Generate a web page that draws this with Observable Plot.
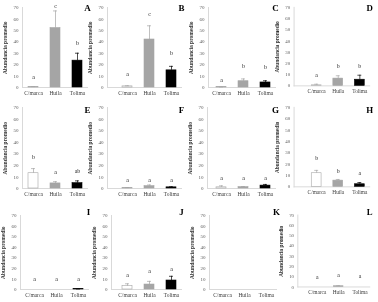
<!DOCTYPE html>
<html><head><meta charset="utf-8">
<script src="https://cdn.jsdelivr.net/npm/d3@7"></script>
<script src="https://cdn.jsdelivr.net/npm/@observablehq/plot@0.6"></script>
<style>
body{margin:0;background:#fff;}
#chart{position:relative;width:378px;height:302px;overflow:hidden;background:#fff;}
#chart > div{position:absolute;will-change:transform;}
#chart svg{overflow:visible;background:transparent;}
</style></head><body><div id="chart"></div>
<script>
// ---- data ----
const categories = ["C/marca", "Huila", "Tolima"];
const panelLetters = ["A","B","C","D","E","F","G","H","I","J","K","L"];
const yTicks = [0, 10, 20, 30, 40, 50, 60, 70];
const yLabel = "Abundancia promedio";
const means = [
  [0.5, 52, 23.5], [1, 42, 15], [0.3, 5.5, 4.4], [0.5, 6.5, 5.5],
  [13.2, 4.4, 4.6], [0.5, 2, 1], [1, 1.2, 2.5], [12, 5.5, 2.3],
  [0, 0, 0.3], [3.2, 4.7, 8.5], [0, 0, 0], [0, 0.7, 0]
];
const errors = [
  [0.3, 15, 6.5], [0.5, 12, 3.5], [0.2, 2, 1.5], [1, 2.5, 4],
  [4, 1.5, 2], [0.3, 1, 0.5], [1.3, 0.5, 1], [2.5, 1, 1.5],
  [0, 0, 0.2], [2.2, 3, 4], [0, 0, 0], [0, 0.5, 0]
];
const groupLetters = [
  ["a","c","b"], ["a","c","b"], ["a","b","b"], ["a","b","b"],
  ["b","a","ab"], ["a","a","a"], ["a","a","a"], ["b","b","a"],
  ["a","a","a"], ["a","a","a"], ["","",""], ["a","a","a"]
];
const letterHeights = [
  [9, 71.5, 38.5], [12, 64.5, 30], [6.5, 18.5, 17.5], [9.3, 17.5, 17.5],
  [27, 14.5, 15], [7.3, 7.3, 7.3], [8.7, 8.7, 8.7], [25, 14, 12.5],
  [10, 10, 10], [13.2, 17, 19.6], [0, 0, 0], [10, 11.5, 10.7]
];

// ---- style / layout ----
const barFill = ["#ffffff", "#a5a5a5", "#000000"];
const barStroke = ["#a5a5a5", "#a5a5a5", "#000000"];
const axisXs = [22,107,208,294, 22,107,207,294, 20,111,209,298];
const bandRanges = [[22,88],[116,182],[210,276],[305,372],
                    [22,88],[116,182],[210,276],[305,372],
                    [22,89],[116,182],[210,277],[307,373]];
const rowFrames = [[7,87],[107,188],[215,289]];
const letterDy = [0.5, 2.5, -3];
const font = "'Liberation Serif', 'Times New Roman', serif";

const chart = document.getElementById("chart");
panelLetters.forEach((letter, p) => {
  const row = Math.floor(p / 4);
  const top = row * 100;
  const [ft, fb] = rowFrames[row];
  const ax = axisXs[p];
  const [x1, x2] = bandRanges[p];
  const L = ax - 22;
  const W = x2 - L + 8;
  const data = categories.map((c, i) => ({
    cat: c, i, mean: means[p][i], err: errors[p][i],
    g: groupLetters[p][i], gy: letterHeights[p][i]
  }));
  const svg = Plot.plot({
    width: W, height: 100,
    marginLeft: 22, marginRight: W - (x2 - L),
    marginTop: ft - top, marginBottom: 100 - (fb - top),
    style: {fontFamily: font, background: "transparent", overflow: "visible"},
    x: {type: "band", domain: categories, range: [x1 - L, x2 - L], paddingInner: 0.55, paddingOuter: 0.275},
    y: {domain: [0, 70]},
    marks: [
      Plot.frame({anchor: "left", stroke: "#d9d9d9"}),
      Plot.ruleY([0], {stroke: "#d9d9d9"}),
      Plot.axisY({ticks: yTicks, tickSize: 0, tickPadding: 4, fontSize: 5, fill: "#595959", label: null}),
      Plot.axisX({tickSize: 0, tickPadding: 3.5, fontSize: 5.5, fill: "#404040", label: null}),
      Plot.barY(data, {x: "cat", y: "mean", fill: d => barFill[d.i], stroke: d => barStroke[d.i], strokeWidth: 0.6}),
      Plot.ruleX(data.filter(d => d.err > 0), {x: "cat", y1: "mean", y2: d => d.mean + d.err, stroke: d => barStroke[d.i], strokeWidth: 0.7}),
      Plot.tickY(data.filter(d => d.err > 0), {x: "cat", y: d => d.mean + d.err, stroke: d => barStroke[d.i], strokeWidth: 0.7, insetLeft: 3, insetRight: 3}),
      Plot.text(data.filter(d => d.g), {x: "cat", y: "gy", text: "g", fontSize: 6, fill: "#303030"}),
      Plot.text([yLabel], {frameAnchor: "left", rotate: -90, textAnchor: "start", dx: -17, dy: 26.5, fontSize: 5.5, fontWeight: "bold", fill: "#303030"}),
      Plot.text([letter], {frameAnchor: "top-right", textAnchor: "middle", lineAnchor: "middle", dx: -1, dy: letterDy[row], fontSize: 9, fontWeight: "bold", fill: "#000"})
    ]
  });
  const div = document.createElement("div");
  div.style.left = L + "px";
  div.style.top = top + "px";
  div.appendChild(svg);
  chart.appendChild(div);
});
</script>
</body></html>
